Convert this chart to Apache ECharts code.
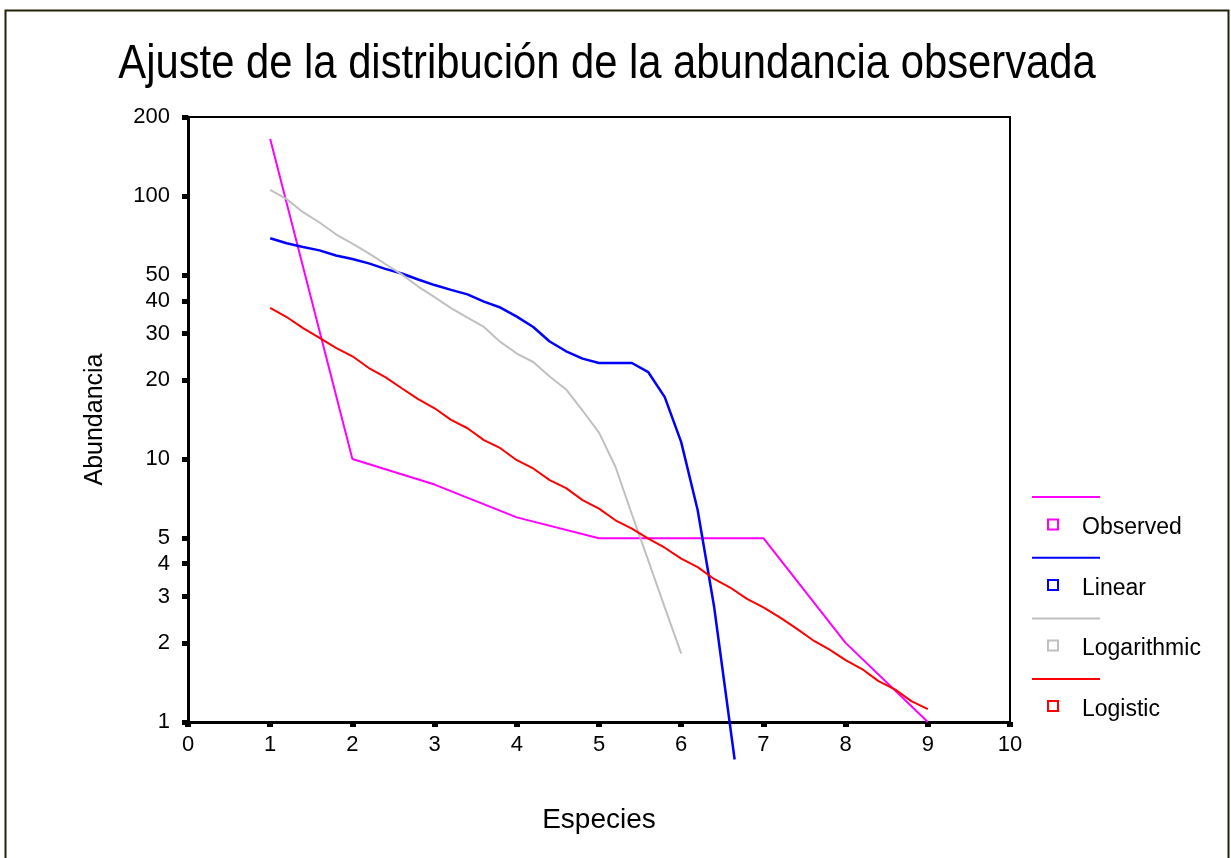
<!DOCTYPE html>
<html>
<head>
<meta charset="utf-8">
<script src="https://cdn.jsdelivr.net/npm/echarts@6/dist/echarts.min.js"></script>
<style>
html,body{margin:0;padding:0;background:#fff;}
#chart{width:1231px;height:858px;}
</style>
</head>
<body>
<div id="chart"></div>
<script>
// ---- data ----
const titleText = 'Ajuste de la distribución de la abundancia observada';
const xName = 'Especies';
const yName = 'Abundancia';
const yTicks = [1, 2, 3, 4, 5, 10, 20, 30, 40, 50, 100, 200];
const seriesNames = ['Observed', 'Linear', 'Logarithmic', 'Logistic'];

const observedX = [1, 2, 3, 4, 5, 6, 7, 8, 9];
const observedY = [165, 10, 8, 6, 5, 5, 5, 2, 1];

const linearX = [1, 1.2, 1.4, 1.6, 1.8, 2, 2.2, 2.4, 2.6, 2.8, 3, 3.2, 3.4, 3.6, 3.8, 4, 4.2, 4.4, 4.6, 4.8, 5, 5.2, 5.4, 5.6, 5.8, 6, 6.2, 6.4, 6.65];
const linearY = [69.2, 66.2, 64.1, 62.2, 59.5, 57.7, 55.5, 52.9, 50.8, 48.2, 45.9, 44.0, 42.3, 39.7, 37.7, 34.8, 31.8, 28.0, 25.7, 24.1, 23.2, 23.2, 23.2, 21.4, 17.2, 11.6, 6.4, 2.75, 0.72];

const logX = [1, 1.2, 1.4, 1.6, 1.8, 2, 2.2, 2.4, 2.6, 2.8, 3, 3.2, 3.4, 3.6, 3.8, 4, 4.2, 4.4, 4.6, 4.8, 5, 5.2, 5.4, 5.6, 5.8, 6];
const logY = [105.7, 97.4, 86.9, 79.4, 71.6, 66.0, 60.6, 55.2, 50.4, 45.3, 41.3, 37.5, 34.5, 31.8, 27.9, 25.2, 23.4, 20.6, 18.4, 15.3, 12.6, 9.35, 6.17, 4.11, 2.73, 1.82];

const logisticX = [1, 1.2, 1.4, 1.6, 1.8, 2, 2.2, 2.4, 2.6, 2.8, 3, 3.2, 3.4, 3.6, 3.8, 4, 4.2, 4.4, 4.6, 4.8, 5, 5.2, 5.4, 5.6, 5.8, 6, 6.2, 6.4, 6.6, 6.8, 7, 7.2, 7.4, 7.6, 7.8, 8, 8.2, 8.4, 8.6, 8.8, 9];
const logisticY = [37.6, 34.7, 31.5, 28.9, 26.5, 24.6, 22.2, 20.5, 18.6, 16.9, 15.6, 14.1, 13.1, 11.8, 11.0, 9.9, 9.21, 8.32, 7.75, 6.98, 6.48, 5.85, 5.44, 4.98, 4.60, 4.18, 3.88, 3.50, 3.24, 2.94, 2.73, 2.50, 2.27, 2.05, 1.89, 1.72, 1.59, 1.43, 1.33, 1.20, 1.12];

const colors = ['#ff00ff', '#0000ff', '#c0c0c0', '#ff0000'];

// ---- chart ----
const FONT = "'Liberation Sans', Arial, sans-serif";
const pairs = (xs, ys) => xs.map((x, i) => [x, ys[i]]);
// hollow square (outer clockwise, inner counter-clockwise) placed at top-left of a 30x19 box
const squareIcon = 'path://M0,0h12v12h-12z M2,2v8h8v-8z M30,19';

const chart = echarts.init(document.getElementById('chart'), null, {renderer: 'canvas'});
chart.setOption({
  animation: false,
  backgroundColor: '#fff',
  color: colors,
  textStyle: {fontFamily: FONT, color: '#000'},
  graphic: [
    {type: 'rect', left: 3, top: 8, shape: {width: 1223, height: 860}, style: {fill: 'none', stroke: '#222208', lineWidth: 2}, silent: true},
    {type: 'text', x: 607, y: 65, scaleX: 0.87, style: {text: titleText, font: '48px ' + FONT, fill: '#000', textAlign: 'center', textVerticalAlign: 'middle'}}
  ],
  grid: {left: 188, top: 117, width: 822, height: 605, show: true, borderColor: '#000', borderWidth: 2, backgroundColor: 'transparent'},
  legend: [
    {
      orient: 'vertical', left: 1032, top: 496, padding: 0, icon: 'rect', itemWidth: 68, itemHeight: 2, itemGap: 58.7,
      data: seriesNames, formatter: () => '', textStyle: {fontSize: 2, lineHeight: 2}, selectedMode: false
    },
    {
      orient: 'vertical', left: 1047, top: 516, padding: 0, icon: squareIcon, itemWidth: 30, itemHeight: 19, itemGap: 36.5,
      data: seriesNames, textStyle: {fontFamily: FONT, fontSize: 23, lineHeight: 24, color: '#000'}, selectedMode: false
    }
  ],
  xAxis: {
    type: 'value', min: 0, max: 10, interval: 1,
    name: xName, nameLocation: 'middle', nameGap: 84,
    nameTextStyle: {fontSize: 28, fontFamily: FONT, color: '#000'},
    axisLine: {show: true, onZero: false, lineStyle: {color: '#000', width: 3}},
    axisTick: {show: true, length: 5, lineStyle: {color: '#000', width: 6}},
    axisLabel: {fontSize: 22, color: '#000', margin: 12, fontFamily: FONT},
    splitLine: {show: false}
  },
  yAxis: {
    type: 'log', logBase: 10, min: 1, max: 200,
    name: yName, nameLocation: 'middle', nameGap: 80, nameRotate: 90,
    nameTextStyle: {fontSize: 25, fontFamily: FONT, color: '#000'},
    axisLine: {show: true, onZero: false, lineStyle: {color: '#000', width: 3}},
    axisTick: {show: true, length: 6, lineStyle: {color: '#000', width: 5}, customValues: yTicks},
    axisLabel: {fontSize: 22, color: '#000', margin: 18, fontFamily: FONT, customValues: yTicks},
    splitLine: {show: false}
  },
  series: [
    {name: seriesNames[0], type: 'line', data: pairs(observedX, observedY), symbol: 'none', lineStyle: {width: 2, color: colors[0]}, itemStyle: {color: colors[0]}},
    {name: seriesNames[1], type: 'line', data: pairs(linearX, linearY), symbol: 'none', clip: false, lineStyle: {width: 2.5, color: colors[1]}, itemStyle: {color: colors[1]}},
    {name: seriesNames[2], type: 'line', data: pairs(logX, logY), symbol: 'none', lineStyle: {width: 2, color: colors[2]}, itemStyle: {color: colors[2]}},
    {name: seriesNames[3], type: 'line', data: pairs(logisticX, logisticY), symbol: 'none', lineStyle: {width: 2, color: colors[3]}, itemStyle: {color: colors[3]}}
  ]
});
</script>
</body>
</html>
